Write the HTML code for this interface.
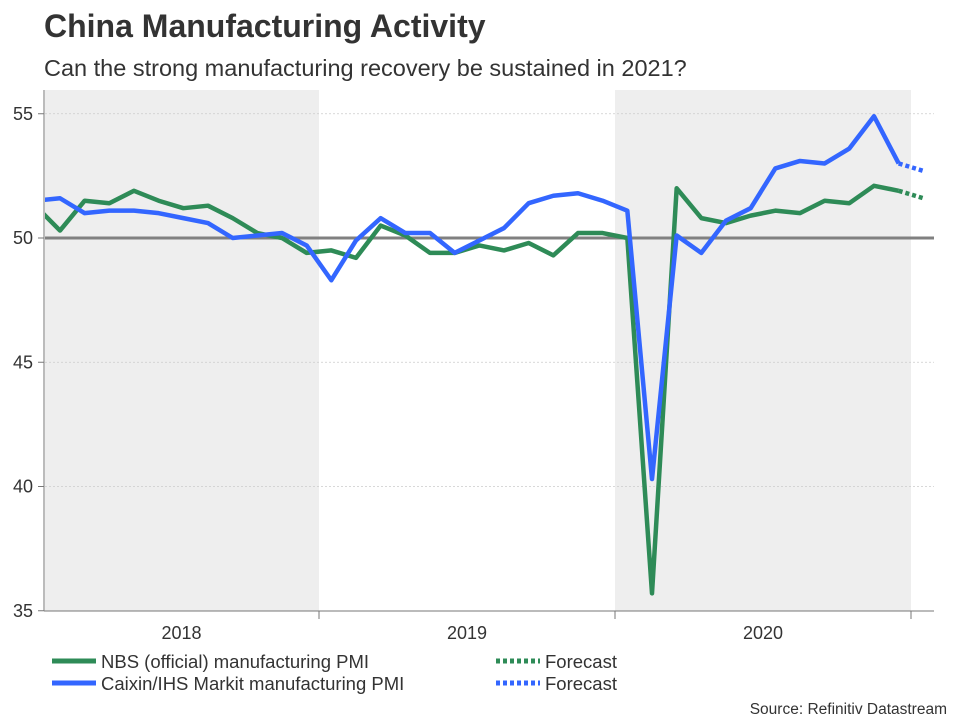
<!DOCTYPE html>
<html><head><meta charset="utf-8"><style>
body{margin:0;background:#fff;font-family:"Liberation Sans",sans-serif;}
svg text{font-family:"Liberation Sans",sans-serif;}
</style></head><body>
<svg width="960" height="720" id="chart">
<text x="44" y="37" font-size="32" font-weight="bold" fill="#333">China Manufacturing Activity</text>
<text x="44" y="76" font-size="23.5" fill="#333">Can the strong manufacturing recovery be sustained in 2021?</text>
<defs><clipPath id="plotclip"><rect x="45" y="90" width="889" height="521"/></clipPath></defs>
<g id="bg"></g><g id="grid"></g><g id="lines" clip-path="url(#plotclip)"></g><g id="axes"></g>
<g>
<line x1="52" y1="661" x2="96" y2="661" stroke="#2e8b57" stroke-width="5"/>
<text x="101" y="668" font-size="18.5" fill="#333">NBS (official) manufacturing PMI</text>
<line x1="52" y1="683" x2="96" y2="683" stroke="#3366ff" stroke-width="5"/>
<text x="101" y="690" font-size="18.5" fill="#333">Caixin/IHS Markit manufacturing PMI</text>
<line x1="496" y1="661" x2="540" y2="661" stroke="#2e8b57" stroke-width="5" stroke-dasharray="4,3"/>
<text x="545" y="668" font-size="18.5" fill="#333">Forecast</text>
<line x1="496" y1="683" x2="540" y2="683" stroke="#3366ff" stroke-width="5" stroke-dasharray="4,3"/>
<text x="545" y="690" font-size="18.5" fill="#333">Forecast</text>
</g>
<text x="947" y="714" font-size="15.5" fill="#333" text-anchor="end">Source: Refinitiv Datastream</text>
</svg>
<script>
const years=["2018","2019","2020"];
const yTicks=[35,40,45,50,55];
const nbs=[51.3,50.3,51.5,51.4,51.9,51.5,51.2,51.3,50.8,50.2,50.0,49.4,49.5,49.2,50.5,50.1,49.4,49.4,49.7,49.5,49.8,49.3,50.2,50.2,50.0,35.7,52.0,50.8,50.6,50.9,51.1,51.0,51.5,51.4,52.1,51.9];
const caixin=[51.5,51.6,51.0,51.1,51.1,51.0,50.8,50.6,50.0,50.1,50.2,49.7,48.3,49.9,50.8,50.2,50.2,49.4,49.9,50.4,51.4,51.7,51.8,51.5,51.1,40.3,50.1,49.4,50.7,51.2,52.8,53.1,53.0,53.6,54.9,53.0];
const nbsForecast=[51.6];
const caixinForecast=[52.7];
const NS="http://www.w3.org/2000/svg";
const y0=319, mw=(911-319)/24;
const xm=i=>y0+(i-12+0.5)*mw;
const yv=v=>238-(v-50)*24.85;
function mk(t,a,p){const e=document.createElementNS(NS,t);for(const k in a)e.setAttribute(k,a[k]);document.getElementById(p).appendChild(e);return e;}
years.forEach((y,i)=>{
 const x1=y0+(i-1)*12*mw, x2=x1+12*mw;
 if(i!==1){const r=mk("rect",{x:Math.max(45,x1),y:90,width:x2-Math.max(45,x1),height:521,fill:"#eeeeee"},"bg");
 
 }
 const t=mk("text",{x:(Math.max(44,x1)+x2)/2,y:639,"font-size":18,fill:"#333","text-anchor":"middle"},"axes");t.textContent=y;
 
 
 const tk=mk("line",{x1:x2,x2:x2,y1:611,y2:619,stroke:"#777"},"axes");
 
 
});
yTicks.forEach(v=>{
 const y=yv(v);
 if(v!==50&&v!==35){const g=mk("line",{x1:45,x2:934,y1:y,y2:y,stroke:"#ccc","stroke-dasharray":"2,2","stroke-width":0.7},"grid");
 
 }
 const tk=mk("line",{x1:38,x2:44,y1:y,y2:y,stroke:"#777"},"axes");
 
 
 const t=mk("text",{x:33,y:y+6,"font-size":18,fill:"#333","text-anchor":"end"},"axes");t.textContent=v;
 
 
});
const ya=mk("line",{x1:44,x2:44,y1:90,y2:611,stroke:"#777"},"axes");


const xa=mk("line",{x1:44,x2:934,y1:611,y2:611,stroke:"#777"},"axes");


const ref=mk("line",{x1:45,x2:934,y1:yv(50),y2:yv(50),stroke:"#808080","stroke-width":3},"lines");


function series(d,fc,col,name){
 const pts=d.map((v,i)=>xm(i)+","+yv(v)).join(" ");
 const p=mk("polyline",{points:pts,fill:"none",stroke:col,"stroke-width":4.5,"stroke-linejoin":"round"},"lines");
 
 
 const n=d.length-1;
 const fp=[xm(n)+","+yv(d[n])].concat(fc.map((v,j)=>xm(n+1+j)+","+yv(v))).join(" ");
 const f=mk("polyline",{points:fp,fill:"none",stroke:col,"stroke-width":4.5,"stroke-dasharray":"4,3"},"lines");
 
 
}
series(nbs,nbsForecast,"#2e8b57","nbs");
series(caixin,caixinForecast,"#3366ff","caixin");
</script>
</body></html>
